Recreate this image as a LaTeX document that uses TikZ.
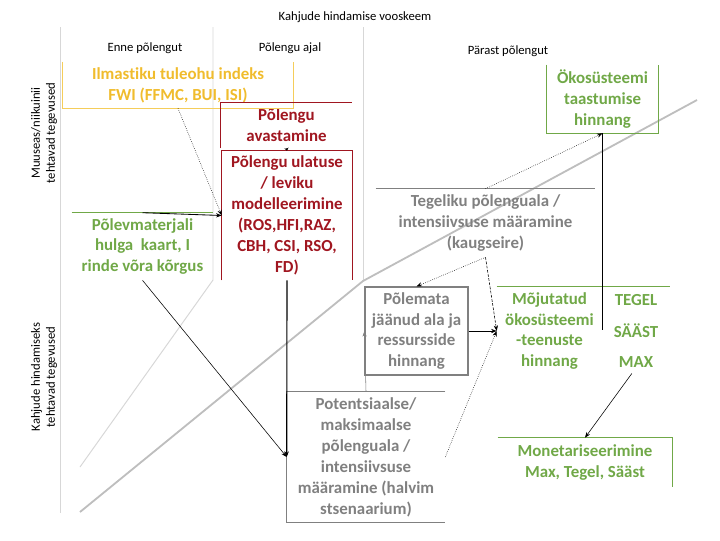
\documentclass[tikz,border=0pt]{standalone}
\usepackage{fontspec}
\setmainfont[Ligatures=NoCommon]{Carlito}
\usepackage{tikz}
\usetikzlibrary{arrows.meta}
\definecolor{ColYellow}{RGB}{240,188,45}
\definecolor{ColYellowLine}{RGB}{245,205,90}
\definecolor{ColRed}{RGB}{160,22,32}
\definecolor{ColGreen}{RGB}{112,168,71}
\definecolor{ColGrey}{RGB}{128,128,128}
\definecolor{ColGuide}{RGB}{215,215,215}
\definecolor{ColGuideDark}{RGB}{190,190,190}
\tikzstyle{BoxText}=[inner sep=0pt,align=center,font=\fontsize{12}{14.9}\selectfont\bfseries]
\tikzstyle{HeadText}=[inner sep=0pt,align=center,font=\fontsize{9}{10.7}\selectfont]
\tikzstyle{BoxLine}=[line width=0.8pt]
\tikzstyle{GuideLine}=[ColGuide,line width=0.7pt]
\tikzstyle{EdgeFlow}=[black,line width=0.4pt,-{Stealth[length=4pt,width=3pt]}]
\tikzstyle{EdgeDotted}=[EdgeFlow,densely dotted]
\tikzstyle{EdgeDashed}=[EdgeFlow,dash pattern=on 2pt off 1pt]

\begin{document}
\begin{tikzpicture}[x=0.025cm,y=-0.025cm]
    \useasboundingbox(0,0)rectangle(720,540);
    % background guide lines
    \draw[GuideLine](60,27)--(60,513);
    \draw[GuideLine](213,27)--(213,280)--(80,467);
    \draw[GuideLine](363,27)--(363,281);
    \draw[ColGuideDark,line width=1.3pt](80,512)--(363,281)--(697,100);
    % headings
    \node[HeadText](title)at(355,17){Kahjude hindamise vooskeem};
    \node[HeadText](before)at(145,48){Enne põlengut};
    \node[HeadText](during)at(290,48){Põlengu ajal};
    \node[HeadText](after)at(508,51){Pärast põlengut};
    \node[HeadText,rotate=90](rowA)at(44,133){Muuseas/niikuinii\\tehtavad tegevused};
    \node[HeadText,rotate=90](rowB)at(44,377){Kahjude hindamiseks\\tehtavad tegevused};
    % boxes
    \node[BoxText,text=ColYellow,minimum width=5.75cm,minimum height=1.15cm](fwi)at(178,85)
        {Ilmastiku tuleohu indeks\\FWI (FFMC, BUI, ISI)};
    \node[BoxText,text=ColRed,minimum width=3.275cm,minimum height=1.125cm](avast)at(286.5,125.5)
        {Põlengu\\avastamine};
    \node[BoxText,text=ColRed,minimum width=3.25cm,minimum height=3.225cm](ulatus)at(287,215.5)
        {Põlengu ulatuse\\/ leviku\\modelleerimine\\(ROS,HFI,RAZ,\\CBH, CSI, RSO,\\FD)};
    \node[BoxText,text=ColGreen,minimum width=3.525cm,minimum height=1.675cm](polev)at(142.5,246.5)
        {Põlevmaterjali\\hulga~ kaart, I\\rinde võra kõrgus};
    \node[BoxText,text=ColGreen,minimum width=2.775cm,minimum height=1.7cm](oko)at(602.5,99)
        {Ökosüsteemi\\taastumise\\hinnang};
    \node[BoxText,text=ColGrey,minimum width=5.475cm,minimum height=1.7cm](tegel)at(485.5,223)
        {Tegeliku põlenguala /\\intensiivsuse määramine\\(kaugseire)};
    \node[BoxText,text=ColGrey,draw=ColGrey,BoxLine,minimum width=2.575cm,minimum height=2.2cm](polem)at(416.5,331)
        {Põlemata\\jäänud ala ja\\ressursside\\hinnang};
    \node[BoxText,text=ColGrey,minimum width=3.95cm,minimum height=3.25cm](potent)at(366,457)
        {Potentsiaalse/\\maksimaalse\\põlenguala /\\intensiivsuse\\määramine (halvim\\stsenaarium)};
    \node[BoxText,text=ColGreen,minimum width=2.625cm,minimum height=2.2cm](mojut)at(549.5,331)
        {Mõjutatud\\ökosüsteemi\\-teenuste\\hinnang};
    \node[BoxText,text=ColGreen](tegelV)at(636,300){TEGEL};
    \node[BoxText,text=ColGreen](saastV)at(636,331){SÄÄST};
    \node[BoxText,text=ColGreen](maxV)at(636,362){MAX};
    \node[BoxText,text=ColGreen,minimum width=4.35cm,minimum height=1.225cm](monet)at(585,462.5)
        {Monetariseerimine\\Max, Tegel, Sääst};
    % open borders
    \draw[ColYellowLine,BoxLine](fwi.north west)--(fwi.south west)--(fwi.south east)--(fwi.north east);
    \draw[ColRed,BoxLine](avast.south west)--(avast.north west)--(avast.north east);
    \draw[ColRed,BoxLine](ulatus.south west)--(ulatus.north west)--(ulatus.north east)--(ulatus.south east);
    \draw[ColGreen,BoxLine](polev.north west)--(polev.north east);
    \draw[ColGreen,BoxLine](oko.north west)--(oko.south west)--(oko.south east)--(oko.north east);
    \draw[ColGrey,BoxLine](tegel.north west)--(tegel.north east);
    \draw[ColGrey,BoxLine](potent.north east)--(potent.north west)--(potent.south west)--(potent.south east);
    \draw[ColGreen,BoxLine](mojut.north west)--++(173,0);
    \draw[ColGreen,BoxLine](monet.north west)--(monet.north east)--(monet.south east);
    \draw[black,line width=0.5pt](oko.south)--(602.5,330);
    % flows
    \draw[EdgeDotted](fwi.south)--(ulatus.west);
    \draw[EdgeFlow,line width=0.6pt](polev.north)--(ulatus.west);
    \draw[EdgeFlow,-{Stealth[length=2pt,width=3pt]}](avast.south)--(ulatus.north);
    \draw[EdgeFlow](polev.south)--(potent.west);
    \draw[EdgeFlow,line width=0.8pt](ulatus.south)--(potent.west);
    \draw[EdgeFlow,ColGrey](potent.north)--(polem.west);
    \draw[EdgeDotted](tegel.north)--(oko.south);
    \draw[EdgeDotted](tegel.south)--(polem.north);
    \draw[EdgeDashed](tegel.south)--(mojut.west);
    \draw[EdgeFlow](polem.east)--(mojut.west);
    \draw[EdgeDotted](potent.east)--(mojut.west);
    \draw[EdgeFlow,shorten <=5pt](maxV.south)--(monet.north);
\end{tikzpicture}
\end{document}
